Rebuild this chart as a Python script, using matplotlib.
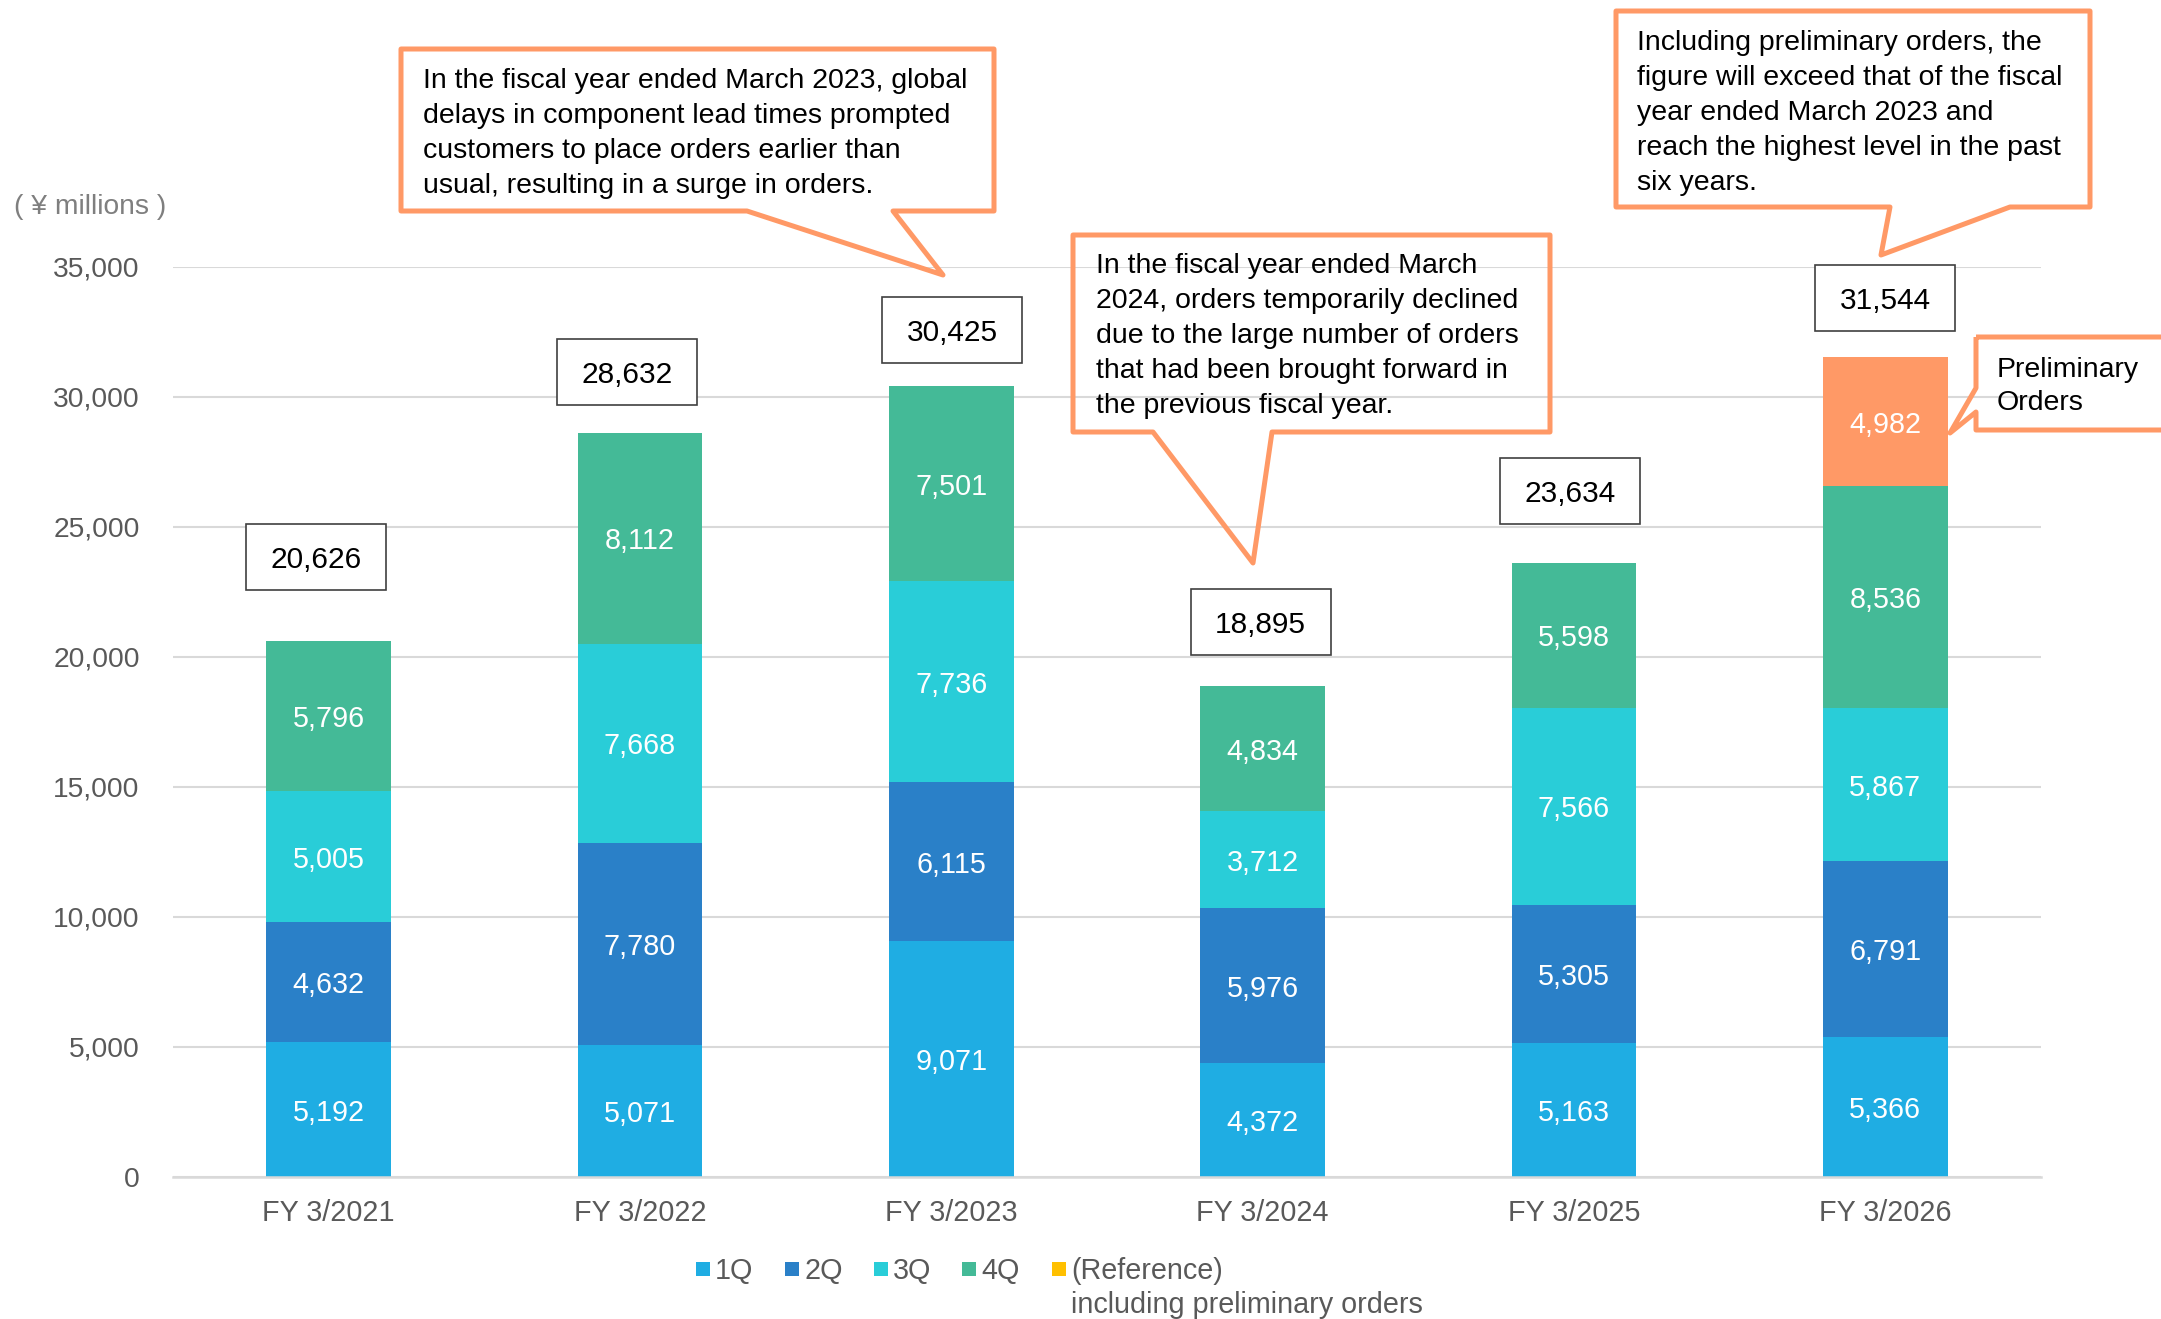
import matplotlib.pyplot as plt
from matplotlib.patches import Polygon, Rectangle

plt.rcParams['font.family'] = ['Liberation Sans', 'DejaVu Sans']

years = ['FY 3/2021', 'FY 3/2022', 'FY 3/2023', 'FY 3/2024', 'FY 3/2025', 'FY 3/2026']
q1 = [5192, 5071, 9071, 4372, 5163, 5366]
q2 = [4632, 7780, 6115, 5976, 5305, 6791]
q3 = [5005, 7668, 7736, 3712, 7566, 5867]
q4 = [5796, 8112, 7501, 4834, 5598, 8536]
prelim = [0, 0, 0, 0, 0, 4982]
totals = [20626, 28632, 30425, 18895, 23634, 31544]

legend_names = ['1Q', '2Q', '3Q', '4Q', '(Reference)']
colors = ['#1FADE3', '#2A80C8', '#29CDD8', '#44BA97', '#FF9966']
legend_colors = ['#1FADE3', '#2A80C8', '#29CDD8', '#44BA97', '#FFC000']
orange = '#FF9966'
grey = '#595959'

# pixel layout of the canvas
W, H = 2161, 1319


def fp(px, py):
    # pixel (from top-left) -> figure fraction
    return (px / W, 1 - py / H)


fig = plt.figure(figsize=(W / 100, H / 100), dpi=100)
ax = fig.add_axes([173 / W, 1 - 1177 / H, (2041 - 173) / W, (1177 - 267) / H])

x = list(range(len(years)))
bottom = [0] * len(years)
for vals, col in zip([q1, q2, q3, q4, prelim], colors):
    ax.bar(x, vals, 0.4, bottom=bottom, color=col, zorder=2)
    for xi, v, b in zip(x, vals, bottom):
        if v:
            ax.text(xi, b + v / 2, f'{v:,}', ha='center', va='center_baseline',
                    color='white', fontsize=20.7, zorder=3)
    bottom = [b + v for b, v in zip(bottom, vals)]

ax.set_xlim(-0.5, 5.5)
ax.set_ylim(0, 35000)
ax.set_yticks(range(0, 35001, 5000))
ax.set_yticklabels([f'{v:,}' for v in range(0, 35001, 5000)])
ax.set_xticks(x)
ax.set_xticklabels(years)
ax.tick_params(axis='y', length=0, pad=24, labelsize=20.3, labelcolor=grey)
ax.tick_params(axis='x', length=0, pad=16, labelsize=20.7, labelcolor=grey)
ax.grid(axis='y', color='#D9D9D9', linewidth=1.5)
ax.set_axisbelow(True)
for s in ['top', 'right', 'left']:
    ax.spines[s].set_visible(False)
ax.spines['bottom'].set_color('#D9D9D9')
ax.spines['bottom'].set_linewidth(1.8)

fig.text(*fp(14, 204), '( ¥ millions )', fontsize=20.3, color='#7F7F7F',
         ha='left', va='center_baseline')

# boxed totals above each bar (offsets in pixels from the bar top)
label_offsets = [(-13, 84), (-13, 61), (1, 56), (-2, 64), (-4, 72), (0, 59)]
for i, (t, (dx, dy)) in enumerate(zip(totals, label_offsets)):
    px, py = ax.transData.transform((i, t))
    cx, cy = px + dx, py + dy
    fig.add_artist(Rectangle(((cx - 70) / W, (cy - 33) / H), 140 / W, 66 / H,
                             transform=fig.transFigure, facecolor='white',
                             edgecolor='#404040', linewidth=1.2, zorder=4))
    fig.text(cx / W, cy / H, f'{t:,}', ha='center', va='center_baseline',
             fontsize=21.5, color='black', zorder=5)

# speech-bubble callouts: outline, first-line text anchor, line step, text
callouts = [
    ([(401, 49), (994, 49), (994, 211), (893, 211), (943, 275), (747, 211), (401, 211)],
     (423, 88), 35,
     'In the fiscal year ended March 2023, global\n'
     'delays in component lead times prompted\n'
     'customers to place orders earlier than\n'
     'usual, resulting in a surge in orders.'),
    ([(1073, 235), (1550, 235), (1550, 432), (1272, 432), (1253, 563), (1153, 432), (1073, 432)],
     (1096, 273), 35,
     'In the fiscal year ended March\n'
     '2024, orders temporarily declined\n'
     'due to the large number of orders\n'
     'that had been brought forward in\n'
     'the previous fiscal year.'),
    ([(1616, 11), (2090, 11), (2090, 207), (2010, 207), (1881, 255), (1890, 207), (1616, 207)],
     (1637, 50), 35,
     'Including preliminary orders, the\n'
     'figure will exceed that of the fiscal\n'
     'year ended March 2023 and\n'
     'reach the highest level in the past\n'
     'six years.'),
    ([(1976, 337), (2185, 337), (2185, 430), (1976, 430), (1976, 412), (1950, 433), (1976, 388)],
     (1997, 377), 33,
     'Preliminary\nOrders'),
]
for pts, (tx, ty), step, txt in callouts:
    fig.add_artist(Polygon([fp(*p) for p in pts], closed=True, transform=fig.transFigure,
                           fill=False, edgecolor=orange, linewidth=3.6,
                           joinstyle='round', zorder=6))
    for k, line in enumerate(txt.split('\n')):
        fig.text(*fp(tx, ty + k * step), line, ha='left', va='baseline',
                 fontsize=20.5, color='black', zorder=7)

# legend row
sq_x = [696, 785, 874, 962, 1052]
for sx, name, col in zip(sq_x, legend_names, legend_colors):
    fig.add_artist(Rectangle(fp(sx, 1276), 14 / W, 14 / H, transform=fig.transFigure,
                             facecolor=col, edgecolor='none'))
    fig.text(*fp(sx + 19, 1268), name, fontsize=20.7, color=grey,
             ha='left', va='center_baseline')
fig.text(*fp(1071, 1302), 'including preliminary orders', fontsize=20.7, color=grey,
         ha='left', va='center_baseline')

fig.savefig('out.png', dpi=100)
